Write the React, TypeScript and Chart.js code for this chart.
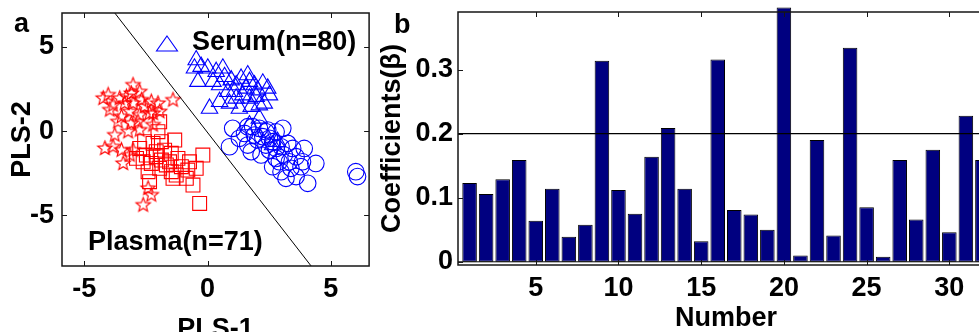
import React, { useEffect, useRef } from 'react';
import { Chart, registerables } from 'chart.js';

Chart.register(...registerables);

// ---------- Panel a: PLS scores ----------
const plasmaStars: [number, number][] = [
  [-3.02, 2.73], [-3.09, 2.23], [-2.75, 2.33], [-4.03, 2.14], [-3.56, 1.94], [-3.83, 1.54],
  [-3.36, 1.64], [-3.02, 1.64], [-2.68, 1.84], [-2.28, 1.74], [-2.01, 1.64], [-1.40, 1.84],
  [-1.94, 1.15], [-2.35, 1.05], [-2.75, 0.95], [-3.15, 1.15], [-3.49, 0.85], [-3.63, 0.55],
  [-3.09, 0.46], [-3.22, -0.04], [-3.76, -0.24], [-4.16, -1.03], [-3.83, -0.93], [-3.49, -1.13],
  [-3.02, -1.13], [-3.42, -1.92], [-3.15, -1.42], [-2.21, 1.05], [-2.75, 0.06], [-2.41, -3.40],
  [-2.28, -3.79], [-2.61, -4.39], [-3.96, 1.25], [-4.23, 1.94], [-3.29, 2.04], [-2.55, 1.45],
  [-2.82, 0.55], [-2.21, 0.36],
];
const plasmaSquares: [number, number][] = [
  [-2.55, -0.63], [-2.21, -0.73], [-1.87, -0.63], [-1.33, -0.53], [-2.48, -1.42], [-2.08, -1.22],
  [-1.74, -1.13], [-1.47, -1.32], [-2.61, -1.82], [-2.28, -1.92], [-1.87, -1.72], [-1.54, -1.82],
  [-1.20, -1.62], [-0.73, -1.82], [-0.19, -1.42], [-2.41, -2.41], [-1.94, -2.21], [-1.47, -2.41],
  [-1.06, -2.11], [-0.80, -2.31], [-0.46, -2.21], [-1.40, -2.80], [-0.86, -2.80], [-2.35, -3.00],
  [-0.59, -3.20], [-0.32, -4.29], [-2.08, -1.52], [-1.67, -2.01], [-1.27, -2.61], [-2.75, -1.03],
  [-1.94, 0.55], [-2.01, -0.04], [-2.88, -1.62],
];
const serumTriangles: [number, number][] = [
  [-0.46, 4.21], [-0.26, 3.82], [-0.53, 3.72], [-0.39, 2.93], [0.01, 3.72], [0.35, 3.52],
  [0.62, 3.72], [0.69, 3.22], [0.22, 2.93], [0.49, 2.73], [0.96, 3.02], [1.16, 2.73],
  [1.36, 3.12], [1.63, 3.32], [1.70, 2.93], [1.90, 2.73], [2.24, 2.83], [2.44, 2.53],
  [2.51, 2.13], [0.08, 1.34], [0.49, 1.74], [0.89, 1.64], [1.16, 1.94], [1.43, 2.13],
  [1.70, 1.94], [1.97, 2.04], [2.10, 1.54], [1.29, 1.34], [1.77, 1.45], [2.30, 1.64],
  [1.56, 2.53], [0.82, 2.33], [1.09, 2.33], [2.03, 2.43], [2.64, -0.83], [2.84, -0.63],
  [1.70, 0.36], [2.10, 0.75],
];
const serumCircles: [number, number][] = [
  [1.02, 0.16], [1.29, -0.43], [0.89, -0.93], [1.50, -0.14], [1.83, 0.26], [2.10, 0.16],
  [2.44, 0.06], [2.78, -0.04], [3.05, 0.16], [1.63, -0.83], [2.03, -0.53], [2.37, -0.83],
  [2.64, -0.63], [1.77, -1.22], [2.17, -1.42], [2.51, -1.13], [2.98, -0.93], [3.25, -0.73],
  [3.45, -1.03], [2.78, -1.62], [3.11, -1.42], [3.59, -1.52], [3.92, -1.03], [4.39, -1.92],
  [2.64, -2.11], [2.98, -2.41], [3.38, -2.21], [3.79, -2.11], [4.06, -3.10], [3.18, -2.80],
  [3.59, -2.70], [6.01, -2.41], [6.08, -2.70], [1.90, -0.24], [2.24, -0.33], [2.51, -0.43],
  [2.91, -1.82], [3.32, -1.82], [3.85, -1.82], [2.37, -0.04], [2.78, -1.03], [1.63, 0.26],
];
const boundaryLine: [number, number][] = [[-3.76, 7], [4.2, -8]];
const scatterXRange = [-5.9, 6.55];
const scatterYRange = [-8, 7];
const scatterXTicks = [-5, 0, 5];
const scatterYTicks = [-5, 0, 5];

// ---------- Panel b: regression coefficients ----------
const numbers = [
  1, 2, 3, 4, 5, 6, 7, 8, 9, 10, 11, 12, 13, 14, 15, 16,
  17, 18, 19, 20, 21, 22, 23, 24, 25, 26, 27, 28, 29, 30, 31, 32,
];
const coefficients = [
  0.123, 0.106, 0.129, 0.159, 0.064, 0.114, 0.039, 0.058, 0.314, 0.112, 0.075, 0.164, 0.209, 0.114, 0.032, 0.316,
  0.081, 0.074, 0.050, 0.397, 0.010, 0.190, 0.041, 0.334, 0.085, 0.008, 0.159, 0.066, 0.175, 0.046, 0.228, 0.159,
];
const thresholdValue = 0.2;
const baselineValue = 0;
const barXRange = [0.3, 32.7];
const barYRange = [-0.005, 0.39];
const barXTicks = [5, 10, 15, 20, 25, 30];
const barYTicks = [0, 0.1, 0.2, 0.3];
const barYTickLabels = ['0', '0.1', '0.2', '0.3'];

const FAMILY = '"Liberation Sans", Arial, Helvetica, sans-serif';
const FS = 27;
const boldFont = { family: FAMILY, size: FS, weight: 'bold' as const };
const RED = '#ff0000';
const BLUE = '#0000ff';

const toXY = (arr: [number, number][]) => arr.map(([x, y]) => ({ x, y }));

function makeStar(color: string, outer: number, inner: number) {
  const size = Math.ceil(outer * 2 + 4);
  const c = document.createElement('canvas');
  c.width = size;
  c.height = size;
  const g = c.getContext('2d')!;
  g.strokeStyle = color;
  g.lineWidth = 1.1;
  g.beginPath();
  for (let i = 0; i < 10; i++) {
    const r = i % 2 === 0 ? outer : inner;
    const a = -Math.PI / 2 + (i * Math.PI) / 5;
    const x = size / 2 + r * Math.cos(a);
    const y = size / 2 + r * Math.sin(a);
    if (i === 0) g.moveTo(x, y);
    else g.lineTo(x, y);
  }
  g.closePath();
  g.stroke();
  return c;
}

const framePlugin = {
  id: 'matlabFrame',
  afterDatasetsDraw(chart: any) {
    const { ctx, chartArea, scales } = chart;
    const { left, right, top, bottom } = chartArea;
    ctx.save();
    ctx.strokeStyle = '#161616';
    ctx.lineWidth = 1.5;
    ctx.strokeRect(left, top, right - left, bottom - top);
    ctx.lineWidth = 1;
    const tl = 5;
    ctx.beginPath();
    scales.x.ticks.forEach((t: any) => {
      const px = Math.round(scales.x.getPixelForValue(t.value)) + 0.5;
      ctx.moveTo(px, bottom);
      ctx.lineTo(px, bottom - tl);
      ctx.moveTo(px, top);
      ctx.lineTo(px, top + tl);
    });
    scales.y.ticks.forEach((t: any) => {
      const py = Math.round(scales.y.getPixelForValue(t.value)) + 0.5;
      ctx.moveTo(left, py);
      ctx.lineTo(left + tl, py);
      ctx.moveTo(right, py);
      ctx.lineTo(right - tl, py);
    });
    ctx.stroke();
    ctx.restore();
  },
};

function fixedAxis(kind: 'x' | 'y', size: number) {
  return (s: any) => {
    if (kind === 'x') s.height = size;
    else s.width = size;
    s.paddingLeft = 0;
    s.paddingRight = 0;
    s.paddingTop = 0;
    s.paddingBottom = 0;
  };
}

export default function App() {
  const refA = useRef<HTMLCanvasElement>(null);
  const refB = useRef<HTMLCanvasElement>(null);

  useEffect(() => {
    const star = makeStar(RED, 7.5, 3.2);

    const annotA = {
      id: 'annotA',
      afterDraw(chart: any) {
        const ctx = chart.ctx;
        ctx.save();
        ctx.fillStyle = '#000';
        ctx.font = `bold ${FS}px ${FAMILY}`;
        ctx.textBaseline = 'alphabetic';
        ctx.textAlign = 'left';
        ctx.fillText('a', 14, 31.5);
        ctx.fillText('Serum(n=80)', 192, 49.5);
        ctx.fillText('Plasma(n=71)', 88, 250);
        // legend marker
        ctx.strokeStyle = BLUE;
        ctx.lineWidth = 1.1;
        ctx.beginPath();
        ctx.moveTo(167, 36);
        ctx.lineTo(177.5, 51);
        ctx.lineTo(156.5, 51);
        ctx.closePath();
        ctx.stroke();
        ctx.restore();
      },
    };

    const chartA = new Chart(refA.current!, {
      type: 'scatter',
      data: {
        datasets: [
          {
            label: 'boundary',
            data: toXY(boundaryLine),
            showLine: true,
            borderColor: '#000',
            borderWidth: 1,
            pointRadius: 0,
          } as any,
          {
            label: 'Plasma-1',
            data: toXY(plasmaStars),
            pointStyle: star,
            pointRadius: 7.5,
            borderColor: RED,
            backgroundColor: 'rgba(0,0,0,0)',
          },
          {
            label: 'Plasma-2',
            data: toXY(plasmaSquares),
            pointStyle: 'rect',
            pointRadius: 9.8,
            borderWidth: 1.1,
            borderColor: RED,
            backgroundColor: 'rgba(0,0,0,0)',
          },
          {
            label: 'Serum-1',
            data: toXY(serumTriangles),
            pointStyle: 'triangle',
            pointRadius: 9.5,
            borderWidth: 1.1,
            borderColor: BLUE,
            backgroundColor: 'rgba(0,0,0,0)',
          },
          {
            label: 'Serum-2',
            data: toXY(serumCircles),
            pointStyle: 'circle',
            pointRadius: 8.3,
            borderWidth: 1.1,
            borderColor: BLUE,
            backgroundColor: 'rgba(0,0,0,0)',
          },
        ],
      },
      options: {
        responsive: false,
        animation: false,
        devicePixelRatio: 1,
        layout: { padding: { left: 0, top: 13, right: 10, bottom: 0 } },
        plugins: { legend: { display: false }, tooltip: { enabled: false } },
        scales: {
          x: {
            type: 'linear',
            min: scatterXRange[0],
            max: scatterXRange[1],
            grid: { display: false, drawTicks: false },
            border: { display: false },
            afterBuildTicks: (s: any) => {
              s.ticks = scatterXTicks.map((v) => ({ value: v }));
            },
            ticks: { font: boldFont, color: '#000', padding: 7, maxRotation: 0, autoSkip: false },
            title: { display: true, text: 'PLS-1', font: boldFont, color: '#000', padding: { top: 0, bottom: 14.4 } },
            afterFit: fixedAxis('x', 94),
          },
          y: {
            type: 'linear',
            min: scatterYRange[0],
            max: scatterYRange[1],
            grid: { display: false, drawTicks: false },
            border: { display: false },
            afterBuildTicks: (s: any) => {
              s.ticks = scatterYTicks.map((v) => ({ value: v }));
            },
            ticks: { font: boldFont, color: '#000', padding: 8, autoSkip: false },
            title: { display: true, text: 'PLS-2', font: boldFont, color: '#000', padding: { top: 6.3, bottom: 0 } },
            afterFit: fixedAxis('y', 62),
          },
        },
      } as any,
      plugins: [framePlugin, annotA],
    });

    const annotB = {
      id: 'annotB',
      afterDraw(chart: any) {
        const ctx = chart.ctx;
        ctx.save();
        ctx.fillStyle = '#000';
        ctx.font = `bold ${FS}px ${FAMILY}`;
        ctx.textBaseline = 'alphabetic';
        ctx.textAlign = 'left';
        ctx.fillText('b', 19, 33);
        ctx.restore();
      },
    };

    const chartB = new Chart(refB.current!, {
      type: 'bar',
      data: {
        datasets: [
          {
            type: 'line',
            label: 'threshold',
            data: [
              { x: barXRange[0], y: thresholdValue },
              { x: barXRange[1], y: thresholdValue },
            ],
            borderColor: '#000',
            borderWidth: 1.2,
            pointRadius: 0,
            order: 0,
          },
          {
            type: 'line',
            label: 'baseline',
            data: [
              { x: barXRange[0], y: baselineValue },
              { x: barXRange[1], y: baselineValue },
            ],
            borderColor: '#000',
            borderWidth: 1,
            pointRadius: 0,
            order: 0,
          },
          {
            type: 'bar',
            label: 'Coefficients',
            data: numbers.map((n, i) => ({ x: n, y: coefficients[i] })),
            backgroundColor: '#000080',
            borderColor: '#000',
            borderWidth: 1,
            borderSkipped: false,
            barPercentage: 0.88,
            categoryPercentage: 1,
            clip: false,
            order: 1,
          },
        ] as any,
      },
      options: {
        responsive: false,
        animation: false,
        devicePixelRatio: 1,
        layout: { padding: { left: 0, top: 12, right: 41, bottom: 0 } },
        plugins: { legend: { display: false }, tooltip: { enabled: false } },
        scales: {
          x: {
            type: 'linear',
            offset: false,
            min: barXRange[0],
            max: barXRange[1],
            grid: { display: false, drawTicks: false, offset: false },
            border: { display: false },
            afterBuildTicks: (s: any) => {
              s.ticks = barXTicks.map((v) => ({ value: v }));
            },
            ticks: { font: boldFont, color: '#000', padding: 7.3, maxRotation: 0, autoSkip: false },
            title: { display: true, text: 'Number', font: boldFont, color: '#000', padding: { top: 0, bottom: 24.9 } },
            afterFit: fixedAxis('x', 95),
          },
          y: {
            type: 'linear',
            min: barYRange[0],
            max: barYRange[1],
            beginAtZero: false,
            grid: { display: false, drawTicks: false },
            border: { display: false },
            afterBuildTicks: (s: any) => {
              s.ticks = barYTicks.map((v) => ({ value: v }));
            },
            ticks: {
              font: boldFont,
              color: '#000',
              padding: 5,
              autoSkip: false,
              callback: (v: any) => {
                const i = barYTicks.findIndex((t) => Math.abs(t - Number(v)) < 1e-9);
                return i >= 0 ? barYTickLabels[i] : '';
              },
            },
            title: { display: true, text: 'Coefficients(β)', font: boldFont, color: '#000', padding: { top: 1.3, bottom: 0 } },
            afterFit: fixedAxis('y', 83),
          },
        },
      } as any,
      plugins: [framePlugin, annotB],
    });

    return () => {
      chartA.destroy();
      chartB.destroy();
    };
  }, []);

  return (
    <div
      style={{
        position: 'fixed',
        left: 0,
        top: 0,
        width: 979,
        height: 332,
        overflow: 'hidden',
        background: '#fff',
      }}
    >
      <canvas
        ref={refA}
        width={380}
        height={360}
        style={{ position: 'absolute', left: 0, top: 0, width: 380, height: 360, display: 'block' }}
      />
      <canvas
        ref={refB}
        width={660}
        height={360}
        style={{ position: 'absolute', left: 375, top: 0, width: 660, height: 360, display: 'block' }}
      />
    </div>
  );
}
